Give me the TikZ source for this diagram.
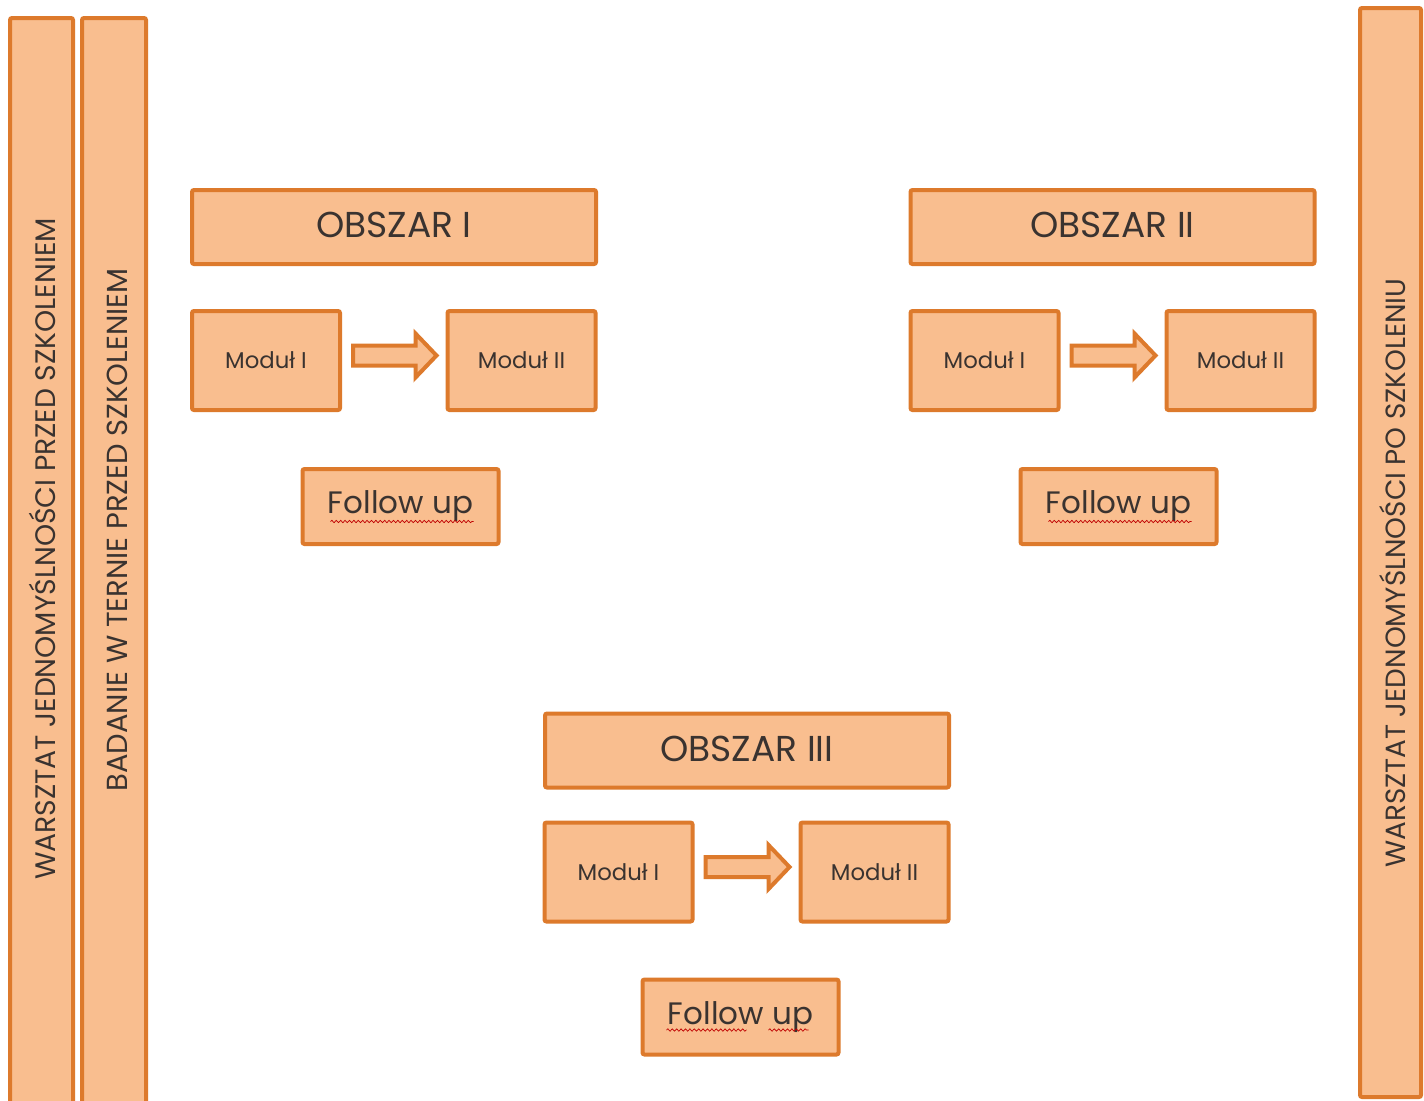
\documentclass[tikz,border=0pt]{standalone}
\usepackage{fontspec}
\setmainfont{Poppins}
\usetikzlibrary{calc,decorations.pathmorphing}
\definecolor{boxfill}{HTML}{F9BE8F}
\definecolor{boxline}{HTML}{DD7A2C}
\definecolor{ink}{HTML}{3A3330}
\def\u{0.5pt}
\tikzset{
  box/.style={draw=boxline, fill=boxfill, line width=2pt, rounded corners=1pt,
              text=ink, inner sep=0pt},
  areabox/.style={box, minimum width=404*\u, minimum height=74*\u, font=\fontsize{18}{21}\selectfont},
  modbox/.style={box, minimum width=148*\u, minimum height=99*\u, font=\fontsize{11.4}{14}\selectfont},
  fupbox/.style={box, minimum width=196*\u, minimum height=75*\u, font=\fontsize{15.5}{18}\selectfont},
  barbox/.style={box},
  bartext/.style={rotate=90, text=ink, inner sep=0pt},
  barrow/.style={draw=boxline, fill=boxfill, line width=2pt, line join=miter},
  squiggle/.style={draw=red!75!black, line width=0.35pt,
                   decorate, decoration={snake, amplitude=0.6pt, segment length=2.2pt}}
}
% block arrow between two module boxes
\newcommand\modarrow[2]{%
  \path (#1.east) ++(11,-5) coordinate (#1-s);
  \path (#2.west) ++(-9,-5) coordinate (#1-e);
  \draw[barrow] ($(#1-s)+(0,-10)$) -- ($(#1-e)+(-21,-10)$) -- ($(#1-e)+(-21,-22)$)
    -- (#1-e) -- ($(#1-e)+(-21,22)$) -- ($(#1-e)+(-21,10)$) -- ($(#1-s)+(0,10)$) -- cycle;
}
\begin{document}
\begin{tikzpicture}[x=0.5pt, y=-0.5pt]
\useasboundingbox (0,0) rectangle (1424,1100);
\clip (0,0) rectangle (1424,1100);
\fill[white] (0,0) rectangle (1424,1100);

% side bars
\draw[barbox] (10,18) rectangle (73,1130);
\draw[barbox] (82,18) rectangle (146,1130);
\draw[barbox] (1360,8) rectangle (1421,1097);
\node[bartext, font=\fontsize{14.1}{17}\selectfont] (w1) at (42,549) {WARSZTAT JEDNOMYŚLNOŚCI PRZED SZKOLENIEM};
\node[bartext, font=\fontsize{14.5}{17}\selectfont] (b1) at (117,530) {BADANIE W TERNIE PRZED SZKOLENIEM};
\node[bartext, font=\fontsize{13.9}{17}\selectfont] (w2) at (1393,573) {WARSZTAT JEDNOMYŚLNOŚCI PO SZKOLENIU};

% area I
\node[areabox] (a1) at (394,227) {\raisebox{2pt}{OBSZAR I}};
\node[modbox] (a1m1) at (266,360.5) {Moduł I};
\node[modbox] (a1m2) at (521.5,360.5) {Moduł II};
\node[fupbox] (a1f) at (400.5,506.5) {Follow up};
\modarrow{a1m1}{a1m2}

% area II
\node[areabox] (a2) at (1112.5,227) {\raisebox{2pt}{OBSZAR II}};
\node[modbox] (a2m1) at (984.5,360.5) {Moduł I};
\node[modbox] (a2m2) at (1240.5,360.5) {Moduł II};
\node[fupbox] (a2f) at (1118.5,506.5) {Follow up};
\modarrow{a2m1}{a2m2}

% area III
\node[areabox] (a3) at (747,750.5) {\raisebox{2pt}{OBSZAR III}};
\node[modbox] (a3m1) at (618.5,872) {Moduł I};
\node[modbox] (a3m2) at (874.5,872) {Moduł II};
\node[fupbox] (a3f) at (740.5,1017) {Follow up};
\modarrow{a3m1}{a3m2}

% spelling marks under "Follow up"
\draw[squiggle] ($(a1f.center)+(-70,15)$) -- ($(a1f.center)+(73,15)$);
\draw[squiggle] ($(a2f.center)+(-70,15)$) -- ($(a2f.center)+(73,15)$);
\draw[squiggle] ($(a3f.center)+(-74,13)$) -- ($(a3f.center)+(6,13)$);
\draw[squiggle] ($(a3f.center)+(28,13)$) -- ($(a3f.center)+(68,13)$);
\end{tikzpicture}
\end{document}
